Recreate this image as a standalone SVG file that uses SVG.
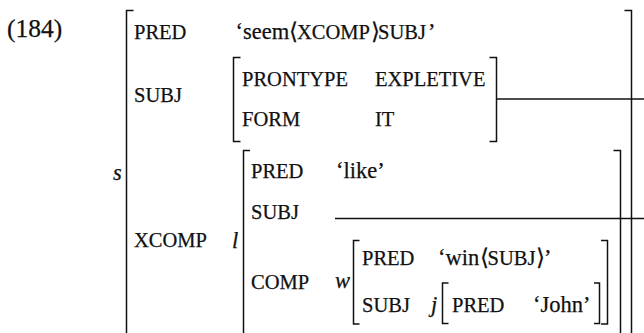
<svg xmlns="http://www.w3.org/2000/svg" width="644" height="333" viewBox="0 0 644 333" font-family="'Liberation Serif', 'Times New Roman', Times, serif">
  <style>
    text { font-family: 'Liberation Serif', 'Times New Roman', Times, serif; fill: #111; stroke: #111; stroke-width: 0.25; }
    .num { font-size: 25.5px; }
    .v { font-size: 22.5px; }
    .sc { font-size: 20.5px; }
    .it { font-size: 22.5px; font-style: italic; }
    .br { fill: none; stroke: #111; stroke-width: 1.5; }
    .ln { fill: none; stroke: #111; stroke-width: 1.3; }
  </style>
  <rect width="644" height="333" fill="#fff"/>

  <text class="num" x="7" y="37">(184)</text>

  <!-- outermost f-structure s -->
  <g id="fs-s">
    <path class="br" d="M133.5 10.5 H126.5 V340"/>
    <path class="br" d="M624.5 10.5 H631.5 V340"/>
    <text class="it" x="113" y="180">s</text>
    <text class="sc" x="134" y="39">PRED</text>
    <text class="v" x="235.5" y="39">‘seem</text>
    <text class="v" x="289" y="39">⟨</text>
    <text class="sc" x="297" y="39">XCOMP</text>
    <text class="v" x="370.5" y="39">⟩</text>
    <text class="sc" x="378" y="39">SUBJ</text>
    <text class="v" x="428" y="39">’</text>
    <text class="sc" x="134" y="102">SUBJ</text>
    <text class="sc" x="134" y="247">XCOMP</text>
  </g>

  <!-- expletive subject -->
  <g id="fs-subj">
    <path class="br" d="M240.5 57.5 H233.5 V141.5 H240.5"/>
    <path class="br" d="M489.5 57.5 H496.5 V141.5 H489.5"/>
    <text class="sc" x="242" y="86">PRONTYPE</text>
    <text class="sc" x="375" y="86">EXPLETIVE</text>
    <text class="sc" x="242" y="126">FORM</text>
    <text class="sc" x="375" y="126">IT</text>
  </g>

  <!-- xcomp f-structure l -->
  <g id="fs-l">
    <path class="br" d="M250 150.5 H243.5 V340"/>
    <path class="br" d="M613.5 150.5 H620.5 V340"/>
    <text class="it" x="232" y="248">l</text>
    <text class="sc" x="251" y="178">PRED</text>
    <text class="v" x="336" y="178">‘like’</text>
    <text class="sc" x="251" y="219">SUBJ</text>
    <text class="sc" x="251" y="289">COMP</text>
  </g>

  <!-- comp f-structure w -->
  <g id="fs-w">
    <path class="br" d="M359.5 240.5 H353.5 V324 H359.5"/>
    <path class="br" d="M601 240.5 H607.5 V324 H601"/>
    <text class="it" x="335" y="288">w</text>
    <text class="sc" x="362" y="265">PRED</text>
    <text class="v" x="438" y="265">‘win</text>
    <text class="v" x="480" y="265">⟨</text>
    <text class="sc" x="487.5" y="265">SUBJ</text>
    <text class="v" x="536" y="265">⟩</text>
    <text class="v" x="544" y="265">’</text>
    <text class="sc" x="362" y="311.5">SUBJ</text>
  </g>

  <!-- subject f-structure j -->
  <g id="fs-j">
    <path class="br" d="M448.5 283 H442.5 V323.5 H448.5"/>
    <path class="br" d="M594 283 H599.5 V323.5 H594"/>
    <text class="it" x="431" y="311.5">j</text>
    <text class="sc" x="452" y="311.5">PRED</text>
    <text class="v" x="533" y="311.5">‘John’</text>
  </g>

  <!-- structure-sharing connectors -->
  <g id="connectors">
    <line class="ln" x1="496.5" y1="99" x2="644" y2="99"/>
    <line class="ln" x1="335" y1="218.5" x2="644" y2="218.5"/>
  </g>
</svg>
